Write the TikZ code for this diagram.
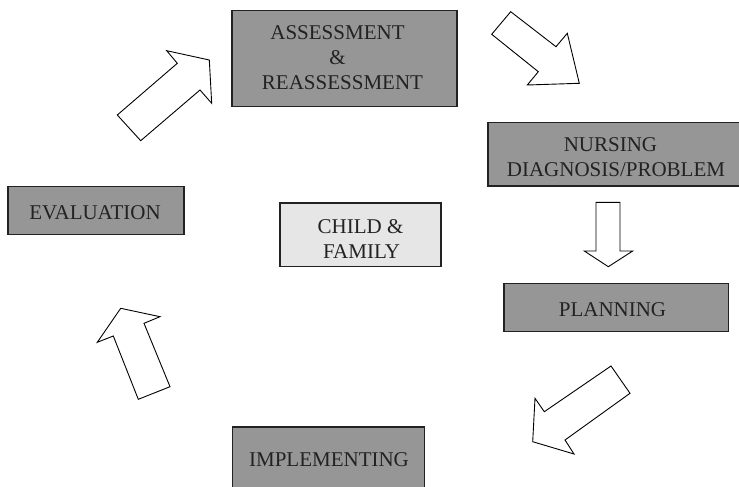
\documentclass[tikz,border=0pt]{standalone}
\usepackage{fontspec}
\setmainfont{Liberation Serif}
\definecolor{boxgray}{HTML}{969696}
\definecolor{lightbox}{HTML}{E6E6E6}
\definecolor{ink}{HTML}{222222}
\begin{document}
\begin{tikzpicture}[x=1pt,y=-1pt,
  stepbox/.style={draw=ink, line width=1.1pt, fill=boxgray, inner sep=0pt},
  centerbox/.style={stepbox, fill=lightbox},
  lbl/.style={anchor=base, text=ink, font=\fontsize{21}{25}\selectfont, inner sep=0pt},
  blockarrow/.style={draw=black, fill=white, line width=0.9pt, line join=miter}]
\useasboundingbox (0,0) rectangle (739,487);
\fill[white] (0,0) rectangle (739,487);

% boxes
\node[stepbox, minimum width=225pt, minimum height=96pt] (assess) at (344.5,58.7) {};
\node[stepbox, minimum width=254pt, minimum height=63.3pt] (nursing) at (615,154.35) {};
\node[stepbox, minimum width=176pt, minimum height=47.6pt] (eval) at (96,210.5) {};
\node[centerbox, minimum width=161pt, minimum height=63.7pt] (child) at (360.5,234.85) {};
\node[stepbox, minimum width=224.5pt, minimum height=47.9pt] (plan) at (616.25,307.25) {};
\node[stepbox, minimum width=191.8pt, minimum height=65pt] (impl) at (328.4,459.5) {};

% labels
\node[lbl] (assess1) at (337.5,40) {ASSESSMENT};
\node[lbl] (assess2) at (337.5,64.5) {\&};
\node[lbl] (assess3) at (342.5,89.3) {REASSESSMENT};
\node[lbl] (nursing1) at (610.5,151.7) {NURSING};
\node[lbl] (nursing2) at (616,176.7) {DIAGNOSIS/PROBLEM};
\node[lbl] (eval1) at (95,219.3) {EVALUATION};
\node[lbl] (child1) at (360.5,233.3) {CHILD \&};
\node[lbl] (child2) at (361.5,258.3) {FAMILY};
\node[lbl] (plan1) at (612.5,316) {PLANNING};
\node[lbl] (impl1) at (329,466.7) {IMPLEMENTING};

% block arrows
\draw[blockarrow] (117.3,115) -- (177.3,63.3) -- (166.7,50.7) -- (209.3,60) -- (211.7,103.3) -- (200,90) -- (140.7,140.7) -- cycle;
\draw[blockarrow] (510.7,11.7) -- (556,46.7) -- (567.3,33.3) -- (579.3,83.3) -- (527.3,85) -- (538.3,71.7) -- (491.7,34.3) -- cycle;
\draw[blockarrow] (596,202.3) -- (620,202.3) -- (620,251) -- (632.7,251) -- (608.3,266.7) -- (584.3,251) -- (596,251) -- cycle;
\draw[blockarrow] (611,366) -- (630,393.3) -- (565,440) -- (574,454) -- (532.7,441.7) -- (535,398.3) -- (544.3,411.7) -- cycle;
\draw[blockarrow] (120.7,308.3) -- (160,316.7) -- (144,323.3) -- (170,386.7) -- (138.3,399.3) -- (113.3,336) -- (97.3,342.3) -- cycle;
\end{tikzpicture}
\end{document}
